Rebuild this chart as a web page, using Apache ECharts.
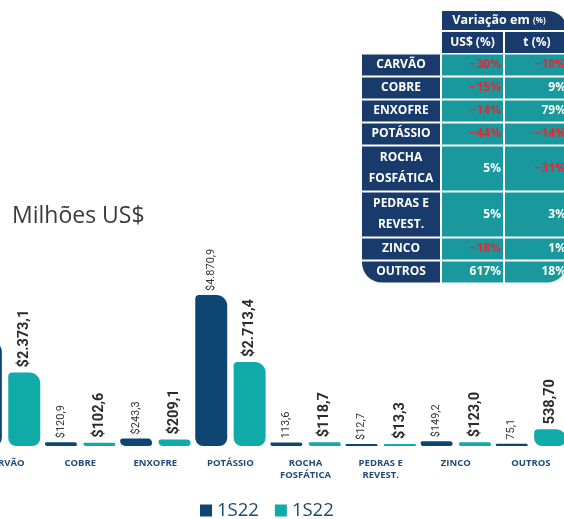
<!DOCTYPE html>
<html>
<head>
<meta charset="utf-8">
<script src="https://cdn.jsdelivr.net/npm/echarts@6/dist/echarts.min.js"></script>
<style>html,body{margin:0;padding:0;background:#fff;overflow:hidden;width:564px;height:519px;}#c{position:absolute;left:-33px;top:0;width:640px;height:519px;}</style>
</head>
<body>
<div id="c"></div>
<script>
// ---- data ----
const categories = ['CARVÃO', 'COBRE', 'ENXOFRE', 'POTÁSSIO', 'ROCHA\nFOSFÁTICA', 'PEDRAS E\nREVEST.', 'ZINCO', 'OUTROS'];
const prevValues = [3390.1, 120.9, 243.3, 4870.9, 113.6, 12.7, 149.2, 75.1];
const currValues = [2373.1, 102.6, 209.1, 2713.4, 118.7, 13.3, 123.0, 538.70];
const prevLabels = ['$3.390,1', '$120,9', '$243,3', '$4.870,9', '113,6', '$12,7', '$149,2', '75,1'];
const currLabels = ['$2.373,1', '$102,6', '$209,1', '$2.713,4', '$118,7', '$13,3', '$123,0', '538,70'];
const seriesNames = ['1S22', '1S22'];
const tableRows = ['CARVÃO', 'COBRE', 'ENXOFRE', 'POTÁSSIO', 'ROCHA\nFOSFÁTICA', 'PEDRAS E\nREVEST.', 'ZINCO', 'OUTROS'];
const varUSD = [-30, -15, -14, -44, 5, 5, -18, 617];
const varT = [-10, 9, 79, -14, -31, 3, 1, 18];
const tableHeader = 'Variação em';
const tableCols = ['US$ (%)', 't (%)'];

// ---- styles ----
const NAVY = '#183b6b', TEAL = '#19999d', RED = '#e8262d';
const DARK_BAR = '#0e4673', TEAL_BAR = '#10aaa9';
const OX = 33; // container offset (chart canvas starts 33px left of the window)

const chart = echarts.init(document.getElementById('c'));

// table graphic
const g = [];
const xL0 = 362 + OX, xL1 = 440 + OX, xA0 = 442 + OX, xA1 = 503 + OX, xB0 = 505 + OX, xB1 = 567 + OX;
const center = {align: 'center', verticalAlign: 'middle', textAlign: 'center', textVerticalAlign: 'middle'};
const right = {align: 'right', verticalAlign: 'middle', textAlign: 'right', textVerticalAlign: 'middle'};
g.push({type: 'rect', shape: {x: xA0, y: 11, width: xB1 - xA0, height: 19, r: [0, 19, 0, 0]}, style: {fill: NAVY}});
g.push({type: 'text', style: Object.assign({text: '{a|' + tableHeader + '} {b|(%)}', x: 499 + OX, y: 20.5,
  rich: {a: {fontSize: 12.5, fontWeight: 'bold', fill: '#fff', color: '#fff', fontFamily: 'Open Sans'}, b: {fontSize: 8, fontWeight: 'bold', fill: '#fff', color: '#fff', fontFamily: 'Open Sans'}}}, center)});
g.push({type: 'rect', shape: {x: xA0, y: 32, width: xA1 - xA0, height: 21}, style: {fill: NAVY}});
g.push({type: 'rect', shape: {x: xB0, y: 32, width: xB1 - xB0, height: 21}, style: {fill: NAVY}});
g.push({type: 'text', style: Object.assign({text: tableCols[0], x: (xA0 + xA1) / 2, y: 43, fill: '#fff', font: 'bold 12px "Open Sans"'}, center)});
g.push({type: 'text', style: Object.assign({text: tableCols[1], x: 537 + OX, y: 43, fill: '#fff', font: 'bold 12px "Open Sans"'}, center)});
let y = 54.5;
const fmt = v => (v < 0 ? '\u2212' + Math.abs(v) : String(v)) + '%';
tableRows.forEach((name, i) => {
  const two = name.indexOf('\n') >= 0;
  const h = two ? 44 : 21;
  const last = i === tableRows.length - 1;
  g.push({type: 'rect', shape: {x: xL0, y: y, width: xL1 - xL0, height: h, r: last ? [0, 0, 0, 20] : 0}, style: {fill: NAVY}});
  g.push({type: 'rect', shape: {x: xA0, y: y, width: xA1 - xA0, height: h}, style: {fill: TEAL}});
  g.push({type: 'rect', shape: {x: xB0, y: y, width: xB1 - xB0, height: h, r: last ? [0, 0, 20, 0] : 0}, style: {fill: TEAL}});
  g.push({type: 'text', style: Object.assign({text: name, x: (xL0 + xL1) / 2, y: y + h / 2, fill: '#fff', font: 'bold 12px "Open Sans"', lineHeight: 21}, center)});
  g.push({type: 'text', style: Object.assign({text: fmt(varUSD[i]), x: xA1 - 2, y: y + h / 2, fill: varUSD[i] < 0 ? RED : '#fff', font: 'bold 12px "Open Sans"'}, right)});
  g.push({type: 'text', style: Object.assign({text: fmt(varT[i]), x: xB1 - 1, y: y + h / 2, fill: varT[i] < 0 ? RED : '#fff', font: 'bold 12px "Open Sans"'}, right)});
  y += h + 2;
});

const barRadius = [4, 11, 8, 8];
const option = {
  backgroundColor: '#fff',
  animation: false,
  title: {text: 'Milhões US$', left: 7 + OX, top: 200, textStyle: {fontSize: 23, fontWeight: 'normal', color: '#3a3a3a', fontFamily: 'Open Sans'}},
  legend: {
    left: 195 + OX, top: 496, itemWidth: 12, itemHeight: 12, itemGap: 16,
    icon: 'rect',
    formatter: n => n.trim(),
    textStyle: {fontSize: 18.5, color: '#1d4a72', fontFamily: 'Open Sans'}
  },
  grid: {left: 0.5, top: 291, width: 601, height: 155},
  xAxis: {
    type: 'category', data: categories,
    axisLine: {show: false}, axisTick: {show: false},
    axisLabel: {interval: 0, margin: 11, fontSize: 9.5, fontWeight: 'bold', color: '#1f4a7a', fontFamily: 'Open Sans', lineHeight: 12}
  },
  yAxis: {type: 'value', min: 0, max: 5000, show: false, splitLine: {show: false}},
  series: [
    {
      name: seriesNames[0], type: 'bar', data: prevValues, barWidth: 32, barGap: '20%', barMinHeight: 2,
      itemStyle: {color: DARK_BAR, borderRadius: barRadius},
      label: {show: true, position: 'top', rotate: 90, align: 'left', verticalAlign: 'middle', distance: 4,
        formatter: p => prevLabels[p.dataIndex], fontSize: 11, color: '#333', fontFamily: 'Roboto'}
    },
    {
      name: seriesNames[1] + '\u00a0', type: 'bar', data: currValues, barWidth: 32, barMinHeight: 2,
      itemStyle: {color: TEAL_BAR, borderRadius: barRadius},
      label: {show: true, position: 'top', rotate: 90, align: 'left', verticalAlign: 'middle', distance: 5,
        formatter: p => currLabels[p.dataIndex], fontSize: 14.5, fontWeight: 'bold', color: '#2b2b2b', fontFamily: 'Roboto'}
    }
  ],
  graphic: {elements: g}
};
chart.setOption(option);
</script>
</body>
</html>
